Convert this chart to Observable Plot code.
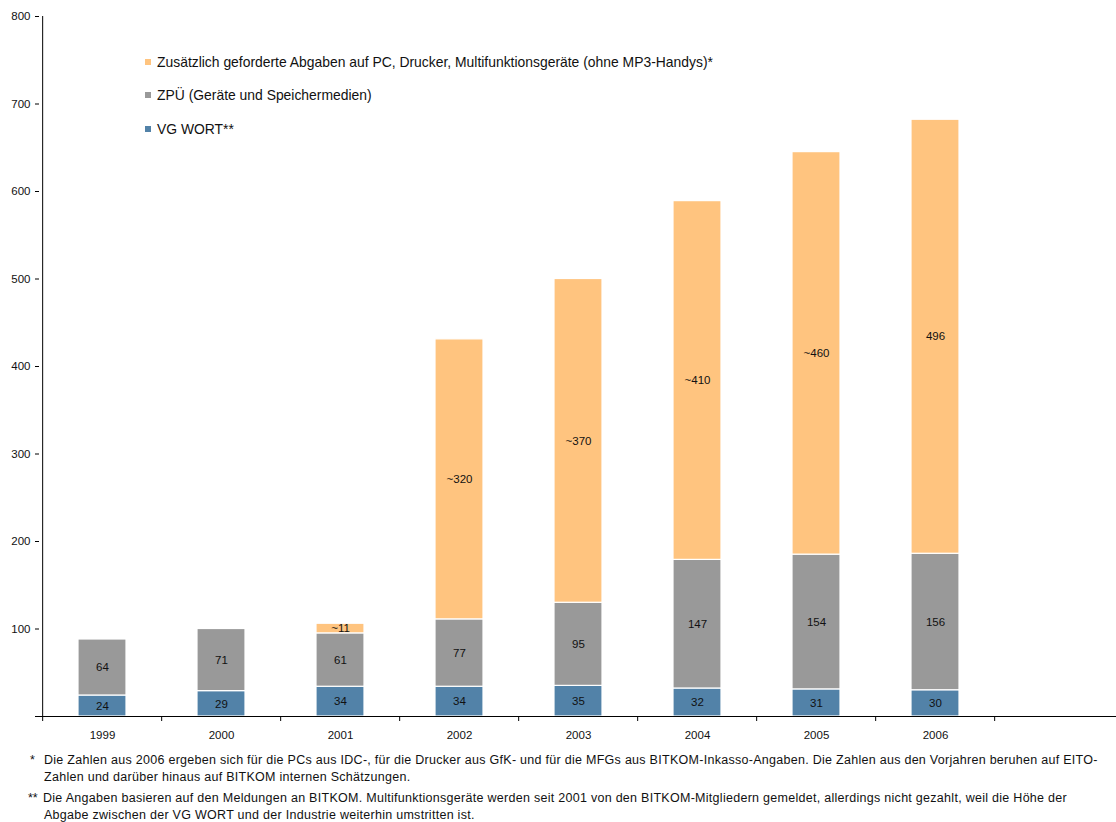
<!DOCTYPE html>
<html>
<head>
<meta charset="utf-8">
<script src="https://cdn.jsdelivr.net/npm/d3@7"></script>
<script src="https://cdn.jsdelivr.net/npm/@observablehq/plot@0.6"></script>
<style>
  html, body { margin: 0; padding: 0; background: #fff; }
  body { font-family: "Liberation Sans", Arial, sans-serif; color: #111; }
  #wrap { position: relative; width: 1116px; }
  #legend { position: absolute; left: 145px; top: 45px; font-size: 13.9px; }
  #legend .item { display: flex; align-items: center; height: 33.5px; }
  #legend .sw { width: 6px; height: 6px; margin-right: 6px; }
  #notes { font-size: 12.5px; letter-spacing: 0.28px; line-height: 16.5px; margin-top: 7px; white-space: nowrap; }
  #notes p { margin: 0 0 5px 0; padding-left: 44px; text-indent: -14px; }
  #notes p.n2 { text-indent: -16px; }
  #notes .mk { display: inline-block; text-indent: 0; letter-spacing: 0; }
</style>
</head>
<body>
<div id="wrap">
  <div id="chart"></div>
  <div id="legend"></div>
  <div id="notes"></div>
</div>
<script>
const years = ["1999", "2000", "2001", "2002", "2003", "2004", "2005", "2006"];
const vgWort = [24, 29, 34, 34, 35, 32, 31, 30];
const zpu = [64, 71, 61, 77, 95, 147, 154, 156];
const zusatz = [0, 0, 11, 320, 370, 410, 460, 496];
const zusatzLabels = ["", "", "~11", "~320", "~370", "~410", "~460", "496"];
const seriesNames = [
  "Zusätzlich geforderte Abgaben auf PC, Drucker, Multifunktionsgeräte (ohne MP3-Handys)*",
  "ZPÜ (Geräte und Speichermedien)",
  "VG WORT**"
];
const seriesColors = ["#FFC47F", "#999999", "#5282A8"];
const yTicks = [0, 100, 200, 300, 400, 500, 600, 700, 800];
const notes = [
  ["*", "Die Zahlen aus 2006 ergeben sich für die PCs aus IDC-, für die Drucker aus GfK- und für die MFGs aus BITKOM-Inkasso-Angaben. Die Zahlen aus den Vorjahren beruhen auf EITO-", "Zahlen und darüber hinaus auf BITKOM internen Schätzungen."],
  ["**", "Die Angaben basieren auf den Meldungen an BITKOM. Multifunktionsgeräte werden seit 2001 von den BITKOM-Mitgliedern gemeldet, allerdings nicht gezahlt, weil die Höhe der", "Abgabe zwischen der VG WORT und der Industrie weiterhin umstritten ist."]
];

const cats = [...years, " "];
const order = [seriesNames[2], seriesNames[1], seriesNames[0]];
const rows = [];
years.forEach((y, i) => {
  rows.push({year: y, series: seriesNames[2], value: vgWort[i], label: String(vgWort[i])});
  rows.push({year: y, series: seriesNames[1], value: zpu[i], label: String(zpu[i])});
  rows.push({year: y, series: seriesNames[0], value: zusatz[i], label: zusatzLabels[i]});
});

const W = 1116, H = 745, mL = 39, mR = 0, mT = 16, mB = 29;
const step = (W - mL - mR) / cats.length;

const chart = Plot.plot({
  width: W,
  height: H,
  marginLeft: mL,
  marginRight: mR,
  marginTop: mT,
  marginBottom: mB,
  style: {fontFamily: "'Liberation Sans', Arial, sans-serif", fontSize: "11.5px", color: "#111", background: "#fff"},
  x: {domain: cats, paddingInner: 0.6, paddingOuter: 0.3, label: null},
  y: {domain: [0, 800], label: null},
  color: {domain: seriesNames, range: seriesColors},
  marks: [
    Plot.barY(rows, Plot.stackY({x: "year", y: "value", fill: "series", order: order, stroke: "#fff", strokeWidth: 1.2})),
    Plot.text(rows.filter(d => d.label !== ""), Plot.stackY({x: "year", y: "value", z: "series", order: order, text: "label", fill: "#111", fontSize: 11.5})),
    Plot.ruleY([0], {stroke: "#000"}),
    Plot.ruleX([cats[0]], {dx: -step / 2, stroke: "#000"}),
    Plot.axisY({ticks: yTicks, tickSize: 4, tickPadding: 5, tickFormat: d => d === 0 ? "" : String(d), fontSize: 11.5, stroke: "#000"}),
    Plot.axisX({ticks: cats, tickSize: 0, tickPadding: 14, fontSize: 11.5}),
    Plot.axisX({ticks: cats, tickSize: 5, tickFormat: () => "", dx: -step / 2, stroke: "#000"})
  ]
});
document.getElementById("chart").appendChild(chart);

const legend = document.getElementById("legend");
seriesNames.forEach((name, i) => {
  const item = document.createElement("div");
  item.className = "item";
  const sw = document.createElement("span");
  sw.className = "sw";
  sw.style.background = seriesColors[i];
  const t = document.createElement("span");
  t.textContent = name;
  item.appendChild(sw);
  item.appendChild(t);
  legend.appendChild(item);
});

const notesEl = document.getElementById("notes");
notes.forEach(([mark, l1, l2], i) => {
  const p = document.createElement("p");
  if (i === 1) p.className = "n2";
  const m = document.createElement("span");
  m.className = "mk";
  m.style.width = i === 0 ? "14px" : "15px";
  m.textContent = mark;
  p.appendChild(m);
  p.appendChild(document.createTextNode(l1));
  p.appendChild(document.createElement("br"));
  p.appendChild(document.createTextNode(l2));
  notesEl.appendChild(p);
});
</script>
</body>
</html>
